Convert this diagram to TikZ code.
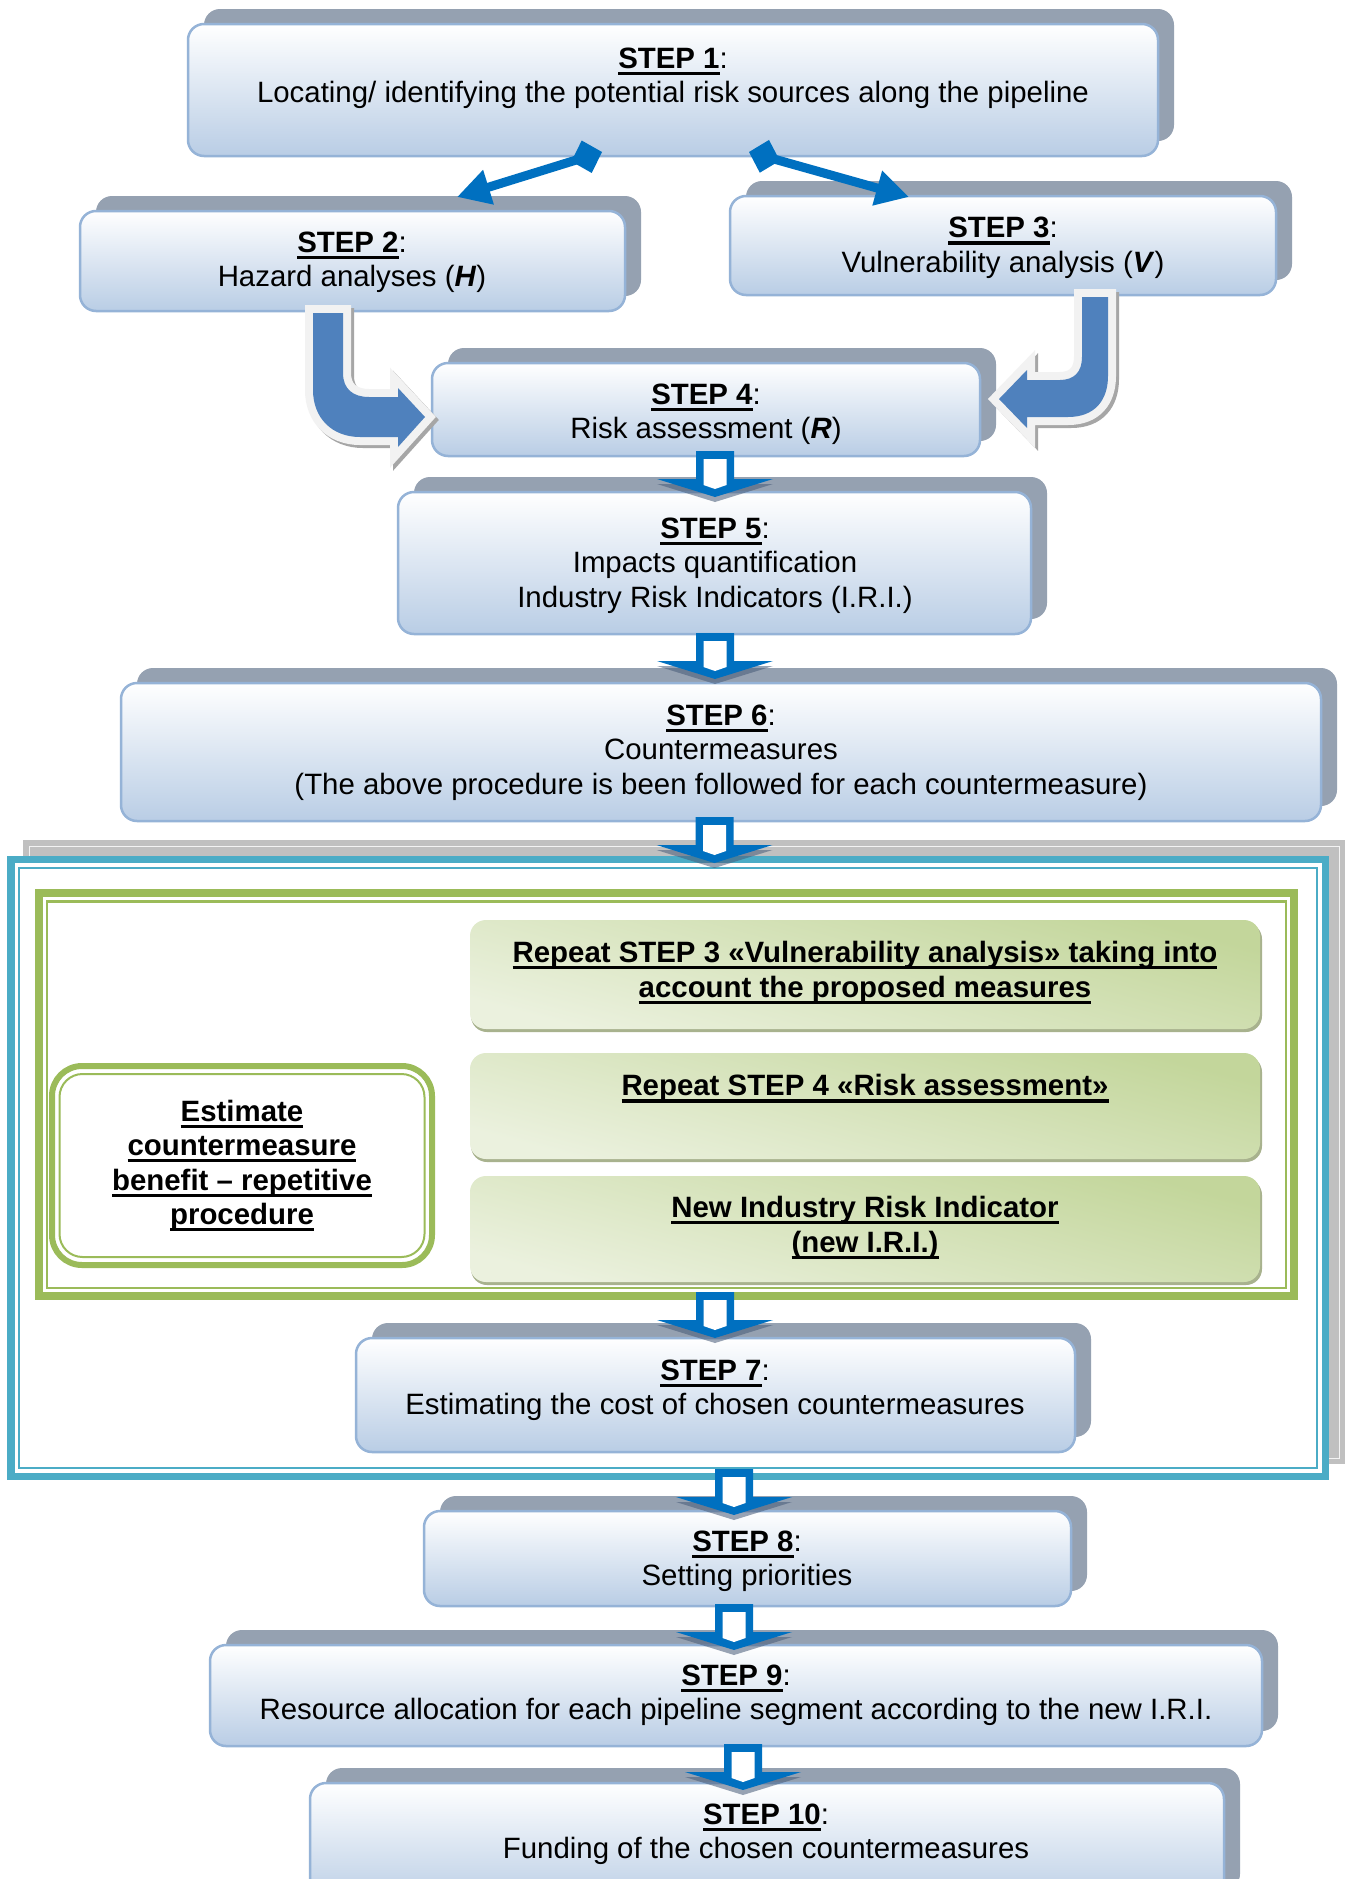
\documentclass[tikz,border=0pt]{standalone}
\usepackage{fontspec}
\setmainfont{Liberation Sans}
\usetikzlibrary{arrows.meta,fit}

\definecolor{boxbot}{RGB}{185,205,229}
\definecolor{boxline}{RGB}{149,179,215}
\definecolor{shadowgray}{RGB}{149,161,177}
\definecolor{arrowblue}{RGB}{0,112,192}
\definecolor{bendblue}{RGB}{79,129,189}
\definecolor{outlinegray}{RGB}{242,242,242}
\definecolor{outlineshadow}{RGB}{166,166,166}
\definecolor{framecyan}{RGB}{75,172,198}
\definecolor{framegreen}{RGB}{155,187,89}
\definecolor{framegray}{RGB}{192,192,192}
\definecolor{greendark}{RGB}{195,214,155}
\definecolor{greenlight}{RGB}{235,241,222}
\definecolor{greenshadow}{RGB}{168,178,142}
\definecolor{headshadow}{RGB}{70,90,120}

% thick underline as used in the box titles
\newcommand\ulbar[1]{\setbox0=\hbox{#1}\rlap{\rule[-6.8pt]{\wd0}{3.3pt}}\box0}
% step box: offset shadow plus gradient box
\newcommand\mkstep[5]{%
  \fill[boxshade] (#2+16,#3-15) rectangle (#4+16,#5-15);
  \node[stepbox, fit={(#2,#3) (#4,#5)}] (#1) {};}

\begin{document}
\begin{tikzpicture}[x=1pt, y=-1pt,
  every node/.style={inner sep=0pt, outer sep=0pt},
  txt/.style={font=\fontsize{29.4}{34.5}\selectfont, align=center, text=black},
  btxt/.style={font=\fontsize{29.4}{34.5}\selectfont\bfseries, align=center, text=black},
  stepbox/.style={rectangle, rounded corners=16pt, draw=boxline, line width=2.5pt,
    top color=white, bottom color=boxbot},
  boxshade/.style={fill=shadowgray, rounded corners=16pt},
  greenbox/.style={rectangle, rounded corners=16pt, top color=greendark, bottom color=greenlight,
    shading angle=-15},
  linkarrow/.style={draw=arrowblue, line width=9pt,
    {Diamond[length=32pt,width=34pt]}-{Triangle[length=33pt,width=34pt]}},
  bendarrow/.style={fill=bendblue,
    preaction={draw=outlineshadow, line width=16pt, transform canvas={shift={(3pt,-3pt)}}},
    preaction={draw=outlinegray, line width=16pt}},
  pics/blockdown/.style={code={
    \fill[headshadow, opacity=0.55] (-58,33) -- (58,33) -- (0,51) -- cycle;
    \fill[arrowblue] (-19,0) -- (19,0) -- (19,28) -- (58,28) -- (0,46) -- (-58,28) -- (-19,28) -- cycle;
    \fill[white] (-11.5,8) -- (11.5,8) -- (11.5,34) -- (0,38) -- (-11.5,34) -- cycle;
  }}
]
\useasboundingbox (0,0) rectangle (1349,1879);
\fill[white] (0,0) rectangle (1349,1879);
\clip (0,0) rectangle (1349,1879);

% ---- upper steps
\mkstep{s1}{188}{24}{1158}{156}
\mkstep{s2}{80}{211}{625}{311}
\mkstep{s3}{730}{196}{1276}{295}
\mkstep{s4}{432}{363}{980}{456}
\mkstep{s5}{398}{492}{1031}{634}
\mkstep{s6}{121}{683}{1321}{821}

% ---- framed block: countermeasure evaluation
\fill[framegray] (23,840) rectangle (1345,1464);
\draw[line width=1pt, white!80!framegray] (29,846) rectangle (1339,1458);
\fill[white] (7,856) rectangle (1329,1480);
\draw[framecyan, line width=7.5pt] (11,859.5) rectangle (1325.5,1476.5);
\draw[framecyan, line width=2pt] (19,868) rectangle (1317,1468);

\draw[framegreen, line width=8pt] (39,893) rectangle (1294,1296);
\draw[framegreen, line width=2.5pt] (47,901.5) rectangle (1286,1288);

\node[fit={(52,1066) (432,1265)}, draw=framegreen, line width=6pt, rounded corners=30pt, fill=white] (est) {};
\draw[framegreen, line width=2pt, rounded corners=23pt] (59.5,1074) rectangle (424.5,1257);

\fill[greenshadow, rounded corners=16pt] (471,923) rectangle (1262,1032);
\node[greenbox, fit={(470,920) (1260,1029)}] (g1) {};
\fill[greenshadow, rounded corners=16pt] (471,1056) rectangle (1262,1162);
\node[greenbox, fit={(470,1053) (1260,1159)}] (g2) {};
\fill[greenshadow, rounded corners=16pt] (471,1179) rectangle (1262,1285);
\node[greenbox, fit={(470,1176) (1260,1282)}] (g3) {};

% ---- lower steps
\mkstep{s7}{356}{1338}{1075}{1452}
\mkstep{s8}{424}{1511}{1071}{1606}
\mkstep{s9}{210}{1645}{1262}{1746}
\mkstep{s10}{310}{1783}{1224}{1905}

% ---- texts
\node[txt] (t1) at (673,78.5) {\ulbar{\textbf{STEP 1}}:\\Locating/ identifying the potential risk sources along the pipeline};
\node[txt] (t2) at (352,262.5) {\ulbar{\textbf{STEP 2}}:\\Hazard analyses (\textbf{\textit{H}})};
\node[txt] (t3) at (1003,248) {\ulbar{\textbf{STEP 3}}:\\Vulnerability analysis (\textbf{\textit{V}})};
\node[txt] (t4) at (706,414.5) {\ulbar{\textbf{STEP 4}}:\\Risk assessment (\textbf{\textit{R}})};
\node[txt] (t5) at (715,565.5) {\ulbar{\textbf{STEP 5}}:\\Impacts quantification\\Industry Risk Indicators (I.R.I.)};
\node[txt] (t6) at (721,752.5) {\ulbar{\textbf{STEP 6}}:\\Countermeasures\\(The above procedure is been followed for each countermeasure)};
\node[btxt] (tg1) at (865,972.5) {\ulbar{Repeat STEP 3 «Vulnerability analysis» taking into}\\\ulbar{account the proposed measures}};
\node[btxt] (tg2) at (865,1088.5) {\ulbar{Repeat STEP 4 «Risk assessment»}};
\node[btxt] (tg3) at (865,1227.5) {\ulbar{New Industry Risk Indicator}\\\ulbar{(new I.R.I.)}};
\node[btxt] (test) at (242,1165.5) {\ulbar{Estimate}\\\ulbar{countermeasure}\\\ulbar{benefit – repetitive}\\\ulbar{procedure}};
\node[txt] (t7) at (715,1390.5) {\ulbar{\textbf{STEP 7}}:\\Estimating the cost of chosen countermeasures};
\node[txt] (t8) at (747,1561.5) {\ulbar{\textbf{STEP 8}}:\\Setting priorities};
\node[txt] (t9) at (736,1695.5) {\ulbar{\textbf{STEP 9}}:\\Resource allocation for each pipeline segment according to the new I.R.I.};
\node[txt] (t10) at (766,1834.5) {\ulbar{\textbf{STEP 10}}:\\Funding of the chosen countermeasures};

% ---- links from step 1 to steps 2 and 3
\coordinate (l2s) at (602,152);
\coordinate (l2e) at (457,197);
\coordinate (l3s) at (749,152);
\coordinate (l3e) at (909,197);
\draw[linkarrow] (l2s) -- (l2e);
\draw[linkarrow] (l3s) -- (l3e);

% ---- bent arrows from steps 2 and 3 into step 4
\path[bendarrow] (313,313) -- (313,390) .. controls (313,418) and (332,437) .. (360,437)
  -- (398,437) -- (398,447) -- (425,417) -- (398,388) -- (398,397) -- (369,397)
  .. controls (353,397) and (343,389) .. (343,373) -- (343,313) -- cycle;
\path[bendarrow] (1108,297) -- (1108,376) .. controls (1108,400) and (1095,417) .. (1068,417)
  -- (1027,417) -- (1027,428) -- (999,399) -- (1027,370) -- (1027,380) -- (1060,380)
  .. controls (1074,380) and (1082,372) .. (1082,357) -- (1082,297) -- cycle;

% ---- block arrows down the sequence
\pic (a45) at (715,451) {blockdown};
\pic (a56) at (715,633) {blockdown};
\pic (a6f) at (714.5,817) {blockdown};
\pic (af7) at (715,1292) {blockdown};
\pic (af8) at (734,1469) {blockdown};
\pic (a89) at (734,1604) {blockdown};
\pic (a910) at (743,1744) {blockdown};
\end{tikzpicture}
\end{document}
